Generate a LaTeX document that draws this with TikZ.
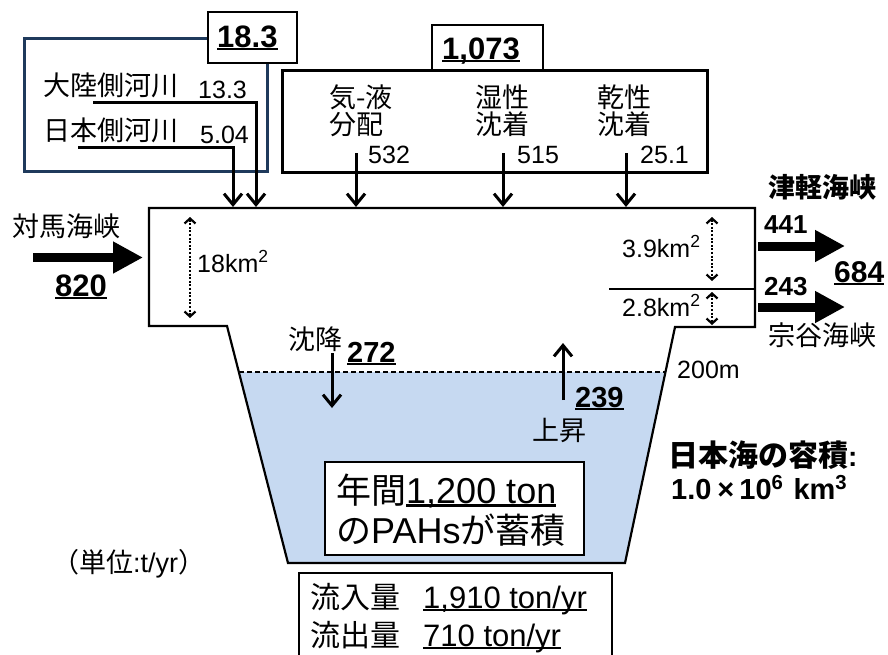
\documentclass[tikz,border=0pt]{standalone}
\usepackage{fontspec}
\setmainfont{Liberation Sans}
\newfontfamily\jp{Noto Sans CJK JP}
\usetikzlibrary{arrows.meta}
\definecolor{navy}{HTML}{1F3A5C}
\definecolor{seablue}{HTML}{C6D9F1}
\newcommand\JT[2]{{\jp\fontsize{#1}{#1}\selectfont #2}}
\newsavebox\ulbox
\newcommand\ulx[1]{\sbox\ulbox{#1}\rlap{\rule[-0.11em]{\wd\ulbox}{0.07em}}\usebox\ulbox}
\tikzset{
  tx/.style={inner sep=0pt, anchor=base west, font=\fontsize{#1}{#1}\selectfont},
  bx/.style={inner sep=0pt, anchor=base west, font=\fontsize{#1}{#1}\selectfont\bfseries},
  arr/.style={line width=3pt, -{Straight Barb[length=11pt,width=18pt]}},
  fat/.style={line width=9pt, -{Triangle[length=30pt,width=30pt]}},
  dda/.style={line width=2.2pt, dash pattern=on 2pt off 1.6pt, {Straight Barb[length=5pt,width=11pt]}-{Straight Barb[length=5pt,width=11pt]}},
  frame/.style={draw, line width=2pt, fill=white}
}
\begin{document}
\begin{tikzpicture}[x=1pt,y=-1pt]
\clip (0,0) rectangle (888,654);
\fill[white] (0,0) rectangle (888,654);

% ---------- rivers ----------
\draw[navy, line width=3pt] (24,38) rectangle (267,171);
\draw[frame] (208,12) rectangle (297,63);
\node[bx=31] (n183) at (217,47) {\ulx{18.3}};
\node[tx=25] (riv1) at (43,95) {\JT{27}{大陸側河川}};
\node[tx=25] (v133) at (198,98) {13.3};
\node[tx=25] (riv2) at (43,140) {\JT{27}{日本側河川}};
\node[tx=25] (v504) at (200,143) {5.04};
\coordinate (r1s) at (93,102);
\coordinate (r1e) at (256,207);
\coordinate (r2s) at (78,147);
\coordinate (r2e) at (233,207);
\draw[arr] (r1s) -| (r1e);
\draw[arr] (r2s) -| (r2e);

% ---------- atmosphere ----------
\draw[line width=3pt] (282,70) rectangle (707,172);
\draw[frame] (432,25) rectangle (543,70);
\node[bx=31] (n1073) at (442,59) {\ulx{1,073}};
\node[tx=25] (a1) at (329,107) {\JT{27}{気-液}};
\node[tx=25] (a2) at (329,134) {\JT{27}{分配}};
\node[tx=25] (b1) at (475,107) {\JT{27}{湿性}};
\node[tx=25] (b2) at (475,134) {\JT{27}{沈着}};
\node[tx=25] (c1) at (597,107) {\JT{27}{乾性}};
\node[tx=25] (c2) at (597,134) {\JT{27}{沈着}};
\node[tx=25] (v532) at (368,163) {532};
\node[tx=25] (v515) at (517,163) {515};
\node[tx=25] (v251) at (640,163) {25.1};
\coordinate (as) at (356,153); \coordinate (ae) at (356,207);
\coordinate (bs) at (503,153); \coordinate (be) at (503,207);
\coordinate (cs) at (626,153); \coordinate (ce) at (626,207);
\draw[arr] (as) -- (ae);
\draw[arr] (bs) -- (be);
\draw[arr] (cs) -- (ce);

% ---------- sea ----------
\fill[seablue] (239,372) -- (665.6,372) -- (625,563) -- (288,563) -- cycle;
\draw[line width=1.5pt, dash pattern=on 5pt off 3pt] (239,372) -- (665.6,372);
\draw[line width=2.2pt, line join=miter] (149,208) -- (755,208) -- (755,327) -- (675,327) -- (625,563) -- (288,563) -- (227,326) -- (149,326) -- cycle;
\draw[line width=1.5pt] (609,289) -- (755,289);

% Tsushima
\node[tx=25] (tsu) at (12,236) {\JT{27}{対馬海峡}};
\coordinate (ts) at (33,257.5); \coordinate (te) at (143,257.5);
\draw[fat] (ts) -- (te);
\node[bx=31] (v820) at (55,296) {\ulx{820}};

% areas
\coordinate (d1s) at (190,217); \coordinate (d1e) at (190,318);
\draw[dda] (d1s) -- (d1e);
\node[tx=25] (k18) at (197,272) {18km\textsuperscript{2}};
\coordinate (d2s) at (712,217); \coordinate (d2e) at (712,281);
\draw[dda] (d2s) -- (d2e);
\node[tx=25] (k39) at (622,257) {3.9km\textsuperscript{2}};
\coordinate (d3s) at (712,292); \coordinate (d3e) at (712,325);
\draw[dda] (d3s) -- (d3e);
\node[tx=25] (k28) at (622,316) {2.8km\textsuperscript{2}};

% outflows
\node[bx=25] (tsg) at (768,197) {\JT{27}{津軽海峡}};
\node[bx=26] (v441) at (764,233) {441};
\coordinate (o1s) at (758,246); \coordinate (o1e) at (845,246);
\draw[fat] (o1s) -- (o1e);
\node[bx=30] (v684) at (834,282) {\ulx{684}};
\node[bx=26] (v243) at (764,295) {243};
\coordinate (o2s) at (758,307); \coordinate (o2e) at (845,307);
\draw[fat] (o2s) -- (o2e);
\node[tx=25] (soya) at (768,345) {\JT{27}{宗谷海峡}};

\node[tx=25] (d200) at (677,378) {200m};

% vertical exchange
\node[tx=25] (chk) at (288,349) {\JT{27}{沈降}};
\node[bx=29] (v272) at (347,362) {\ulx{272}};
\coordinate (ss) at (332,353); \coordinate (se) at (332,408);
\draw[arr] (ss) -- (se);
\coordinate (us) at (563,400); \coordinate (ue) at (563,343);
\draw[arr] (us) -- (ue);
\node[bx=29] (v239) at (575,407) {\ulx{239}};
\node[tx=25] (jsh) at (532,440) {\JT{27}{上昇}};

% accumulation box
\draw[frame] (325,462) rectangle (584,555);
\node[tx=36] (acc1) at (336,503) {\JT{35}{年間}\ulx{1,200 ton}};
\node[tx=36] (acc2) at (336,543) {\JT{35}{の}PAHs\JT{35}{が蓄積}};

% volume
\node[bx=28] (vol1) at (668,466) {\JT{30}{日本海の容積}:};
\node[bx=29] (vol2) at (671,499) {1.0\hspace{6pt}×\hspace{5pt}10\textsuperscript{6}\hspace{10pt}km\textsuperscript{3}};

% unit
\node[tx=27] (unit) at (52,572) {\JT{27}{（単位}:t/yr\JT{27}{）}};

% totals box
\draw[frame] (299,573) rectangle (612,680);
\node[tx=31] (in1) at (310,608) {\JT{30}{流入量}};
\node[tx=31] (in2) at (423,608) {\ulx{1,910 ton/yr}};
\node[tx=31] (out1) at (310,646) {\JT{30}{流出量}};
\node[tx=31] (out2) at (423,646) {\ulx{710 ton/yr}};
\end{tikzpicture}
\end{document}
